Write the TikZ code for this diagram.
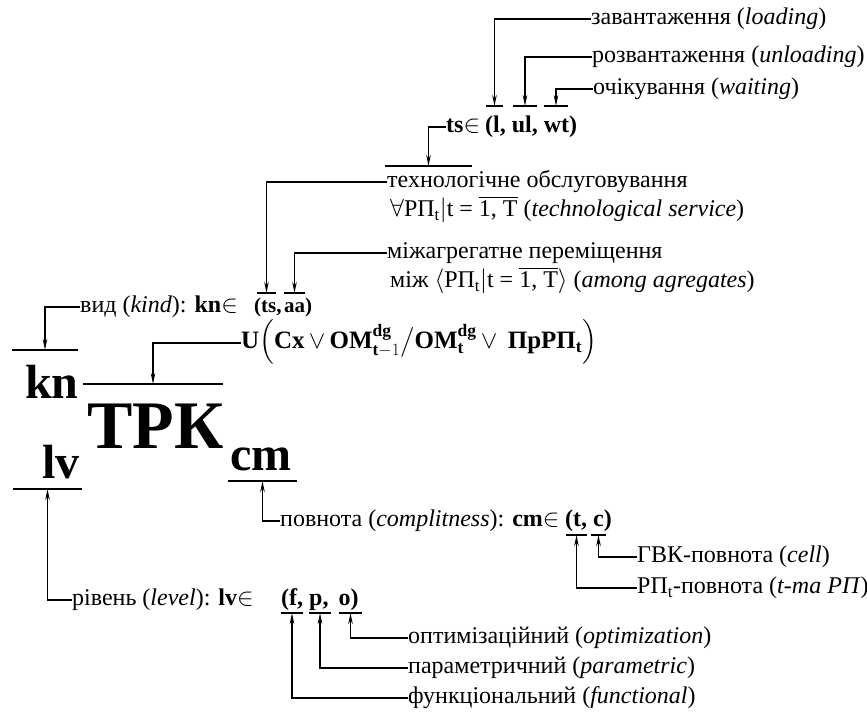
\documentclass[tikz,border=0pt]{standalone}
\usepackage{amsmath}
\usepackage{fontspec}
\setmainfont{Liberation Serif}
\usetikzlibrary{arrows.meta}

\tikzset{
  lbl/.style={anchor=west,inner sep=0pt,text height=16pt,text depth=5pt,font=\fontsize{24}{28}\selectfont},
  part/.style={anchor=base west,inner sep=0pt,font=\bfseries\fontsize{24}{28}\selectfont},
  big/.style={anchor=base west,inner sep=0pt,font=\bfseries\fontsize{48}{48}\selectfont},
  bar/.style={line width=1.3pt},
  conn/.style={line width=1.6pt,-{Stealth[length=11pt,width=4.5pt]}}
}

\begin{document}
\begin{tikzpicture}[x=1pt,y=-1pt]
\useasboundingbox (0,0) rectangle (867,713);
\foreach \n/\a/\b/\y in {l/486/503/106, ul/513/537/106, wt/544/568/106,
    techbar/385/472/166, tsbar/257/276/293, aabar/284/305/293,
    knbar/12/78/350, trkbar/83/223/384, lvbar/13/82/489, cmbar/228/297/481,
    tbar/566/587/535, cbar/591/606/535,
    fbar/281/303/613, pbar/309/331/613, obar/339/362/613}
  {\draw[bar] (\a,\y) -- (\b,\y);
   \coordinate (\n) at ({(\a+\b)/2},\y);}

\node[big] (kn) at (25,398) {kn};
\node[big,font=\bfseries\fontsize{68}{68}\selectfont] (trk) at (87,448) {ТРК};
\node[big] (lv) at (42,478) {lv};
\node[big] (cm) at (230,470) {cm};

\node[lbl] (zav) at (591,19) {завантаження (\textit{loading})};
\node[lbl] (rozv) at (592,57) {розвантаження (\textit{unloading})};
\node[lbl] (ochik) at (593,89) {очікування (\textit{waiting})};
\node[lbl] (ts) at (446,127) {\textbf{ts}$\in$};
\node[part] (tss) at (485,0 |- ts.base) {(l, ul, wt)};
\node[lbl] (tech) at (387,182) {технологічне обслуговування};
\node[lbl] (techd) at (390,211) {$\forall$РП\textsubscript{t}$\vert$t = $\overline{\text{1, T}}$ (\textit{technological service})};
\node[lbl] (mizh) at (387,253) {міжагрегатне переміщення};
\node[lbl] (mizhd) at (390,282) {між $\langle$РП\textsubscript{t}$\vert$t = $\overline{\text{1, T}}\rangle$ (\textit{among agregates})};
\node[lbl] (kind) at (80,307) {вид (\textit{kind}): \textbf{kn}$\in$};
\node[part,font=\bfseries\fontsize{21}{24}\selectfont] (kts) at (254,0 |- kind.base) {(ts,};
\node[part,font=\bfseries\fontsize{21}{24}\selectfont] (kaa) at (284,0 |- kind.base) {aa)};
\node[lbl,font=\bfseries\fontsize{25}{30}\selectfont] (uf) at (241,343) {U$\Big($Cx$\,\vee\,$OM$^{\text{\bfseries dg}}_{\text{\bfseries t}-1}\big/$OM$^{\text{\bfseries dg}}_{\text{\bfseries t}}\,\vee\,$ ПрРП$_{\text{\bfseries t}}\Big)$};
\node[lbl] (compl) at (280,521) {повнота (\textit{complitness}): \textbf{cm}$\in$};
\node[part] (cms) at (565,0 |- compl.base) {(t, c)};
\node[lbl] (gvk) at (637,557) {ГВК-повнота (\textit{cell})};
\node[lbl] (rpt) at (637,588) {РП\textsubscript{t}-повнота (\textit{t-та РП})};
\node[lbl] (level) at (72,600) {рівень (\textit{level}): \textbf{lv}$\in$};
\node[part] (lvs) at (281,0 |- level.base) {(f,\hspace{6pt}p,\hspace{10pt}o)};
\node[lbl] (opt) at (408,638) {оптимізаційний (\textit{optimization})};
\node[lbl] (param) at (408,668) {параметричний (\textit{parametric})};
\node[lbl] (func) at (408,698) {функціональний (\textit{functional})};

\draw[conn] (zav.west) -| (l);
\draw[conn] (rozv.west) -| (ul);
\draw[conn] (ochik.west) -| (wt);
\draw[conn] (ts.west) -| (techbar);
\draw[conn] (tech.west) -| (tsbar);
\draw[conn] (mizh.west) -| (aabar);
\draw[conn] (kind.west) -| (knbar);
\draw[conn] (uf.west) -| (trkbar);
\draw[conn] (compl.west) -| (cmbar);
\draw[conn] (gvk.west) -| (cbar);
\draw[conn] (rpt.west) -| (tbar);
\draw[conn] (level.west) -| (lvbar);
\draw[conn] (opt.west) -| (obar);
\draw[conn] (param.west) -| (pbar);
\draw[conn] (func.west) -| (fbar);
\end{tikzpicture}
\end{document}
